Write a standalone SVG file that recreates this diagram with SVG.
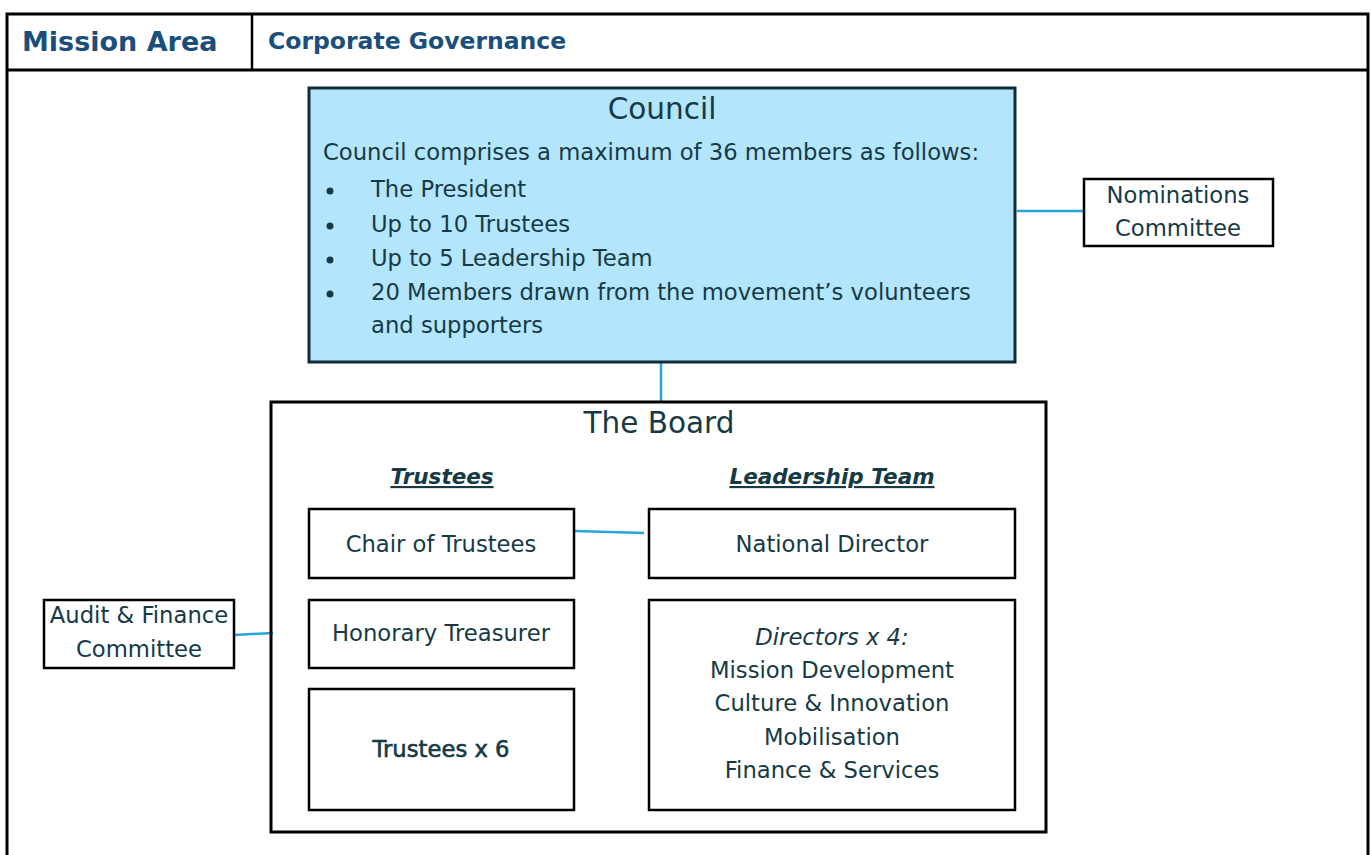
<svg xmlns="http://www.w3.org/2000/svg" width="1371" height="855" viewBox="0 0 1371 855">
<style>
text{font-family:"DejaVu Sans","Noto Sans",sans-serif;fill:#163a45}
.hdr{fill:#1b4f7b;font-weight:bold}
.box{fill:#fff;stroke:#000;stroke-width:2.5}
.t21{font-size:22.7px}
.ttl{font-size:29.5px}
.sub{font-size:21.5px;font-style:italic;font-weight:bold;text-decoration:underline}
.conn{stroke:#27a5d8;stroke-width:2.5;fill:none}
</style>
<rect width="1371" height="855" fill="#fff"/>
<g id="frame">
<rect x="7" y="14" width="1361" height="860" fill="none" stroke="#000" stroke-width="3"/>
<line x1="7" y1="70" x2="1368" y2="70" stroke="#000" stroke-width="3"/>
<line x1="252" y1="14" x2="252" y2="70" stroke="#000" stroke-width="2.5"/>
<text class="hdr" x="22" y="51" font-size="27">Mission Area</text>
<text class="hdr" x="268" y="49" font-size="23.5">Corporate Governance</text>
</g>
<g id="connectors">
<line class="conn" x1="661" y1="362" x2="661" y2="402"/>
<line class="conn" x1="1017" y1="211" x2="1084" y2="211"/>
<line class="conn" x1="234" y1="635" x2="273" y2="633"/>
<line class="conn" x1="574" y1="531" x2="644" y2="533"/>
</g>
<g id="council">
<rect x="309" y="88" width="706" height="274" fill="#b3e5fc" stroke="#0f2c37" stroke-width="3"/>
<text class="ttl" x="662" y="119" text-anchor="middle">Council</text>
<text class="t21" x="323" y="160">Council comprises a maximum of 36 members as follows:</text>
<g fill="#163a45"><circle cx="330" cy="191" r="3.5"/><circle cx="330" cy="226" r="3.5"/><circle cx="330" cy="260" r="3.5"/><circle cx="330" cy="294" r="3.5"/></g>
<text class="t21" x="371" y="197">The President</text>
<text class="t21" x="371" y="232">Up to 10 Trustees</text>
<text class="t21" x="371" y="266">Up to 5 Leadership Team</text>
<text class="t21" x="371" y="300">20 Members drawn from the movement’s volunteers</text>
<text class="t21" x="371" y="333">and supporters</text>
</g>
<g id="nominations">
<rect class="box" x="1084" y="179" width="189" height="67"/>
<text class="t21" x="1178" y="203" text-anchor="middle">Nominations</text>
<text class="t21" x="1178" y="236" text-anchor="middle">Committee</text>
</g>
<g id="board">
<rect x="271" y="402" width="775" height="430" fill="none" stroke="#000" stroke-width="3"/>
<text class="ttl" x="659" y="433" text-anchor="middle">The Board</text>
<text class="sub" x="442" y="484" text-anchor="middle">Trustees</text>
<text class="sub" x="832" y="484" text-anchor="middle">Leadership Team</text>
</g>
<g id="chair">
<rect class="box" x="309" y="509" width="265" height="69"/>
<text class="t21" x="441" y="552" text-anchor="middle">Chair of Trustees</text>
</g>
<g id="treasurer">
<rect class="box" x="309" y="600" width="265" height="68"/>
<text class="t21" x="441" y="641" text-anchor="middle">Honorary Treasurer</text>
</g>
<g id="trustees6">
<rect class="box" x="309" y="689" width="265" height="121"/>
<text class="t21" x="441" y="757" text-anchor="middle" stroke="#163a45" stroke-width="0.6">Trustees x 6</text>
</g>
<g id="national">
<rect class="box" x="649" y="509" width="366" height="69"/>
<text class="t21" x="832" y="552" text-anchor="middle">National Director</text>
</g>
<g id="directors">
<rect class="box" x="649" y="600" width="366" height="210"/>
<text class="t21" x="832" y="645" text-anchor="middle" font-style="italic">Directors x 4:</text>
<text class="t21" x="832" y="678" text-anchor="middle">Mission Development</text>
<text class="t21" x="832" y="711" text-anchor="middle">Culture &amp; Innovation</text>
<text class="t21" x="832" y="745" text-anchor="middle">Mobilisation</text>
<text class="t21" x="832" y="778" text-anchor="middle">Finance &amp; Services</text>
</g>
<g id="audit">
<rect class="box" x="44" y="600" width="190" height="68"/>
<text class="t21" x="139" y="623" text-anchor="middle">Audit &amp; Finance</text>
<text class="t21" x="139" y="657" text-anchor="middle">Committee</text>
</g>
</svg>
